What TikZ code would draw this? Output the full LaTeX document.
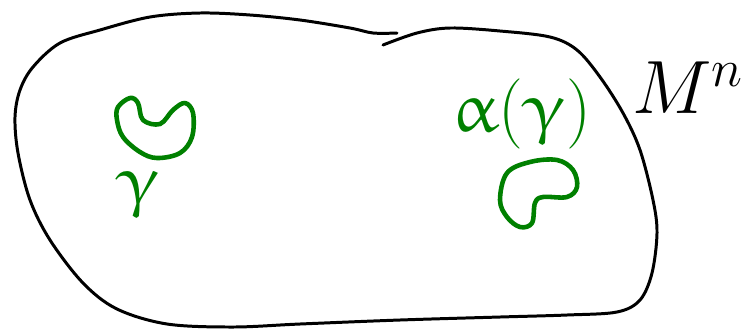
\RequirePackage{fix-cm}
\documentclass[tikz,border=0pt]{standalone}
\usepackage{amsmath}
\usepackage{upgreek}
\usepackage{tikz}
\usetikzlibrary{positioning}

\begin{document}
\begin{tikzpicture}[
    x=0.02cm, y=-0.02cm,
    outline/.style={
      draw=black,
      line width=1.7pt,
      line cap=round,
      line join=round
    },
    loopcurve/.style={
      draw=green!50!black,
      line width=2.6pt,
      line join=round
    },
    biglabel/.style={
      inner sep=0pt,
      font=\fontsize{43}{50}\selectfont
    },
    looplabel/.style={
      biglabel,
      text=green!50!black,
      font=\fontsize{40}{48}\selectfont
    }
  ]
    \useasboundingbox (0,0) rectangle (753,329);

    % the manifold
    \draw[outline] plot[smooth, tension=0.55] coordinates {
      (383,45) (417,33) (450,28) (500,31) (550,37) (577,50)
      (600,77) (623,113) (640,150) (653,200) (657,233)
      (652,273) (640,300) (617,312) (567,315) (500,317)
      (400,320) (300,324) (233,327) (167,324) (117,309)
      (83,283) (50,240) (30,200) (18,153) (15,117) (20,90)
      (33,67) (60,43) (100,30) (150,17) (200,13) (250,15)
      (300,20) (350,28) (373,33) (397,33)};

    % the loop and its image
    \draw[loopcurve] plot[smooth cycle, tension=0.6] coordinates {
      (118,107) (130,98) (138,103) (143,120) (160,124) (173,110)
      (185,103) (193,113) (192,137) (180,153) (157,158) (140,152)
      (123,137) (117,120)};
    \draw[loopcurve] plot[smooth cycle, tension=0.6] coordinates {
      (507,173) (530,162) (557,160) (573,170) (577,187) (567,197)
      (543,197) (535,203) (532,223) (520,227) (507,217) (500,200)};

    \node[looplabel] (gamma) at (139,195) {$\upgamma$};
    \node[looplabel] (image) at (522,114) {$\upalpha(\upgamma)$};
    \node[biglabel] (mfd) at (688,88) {$M^n$};
  \end{tikzpicture}
\end{document}
